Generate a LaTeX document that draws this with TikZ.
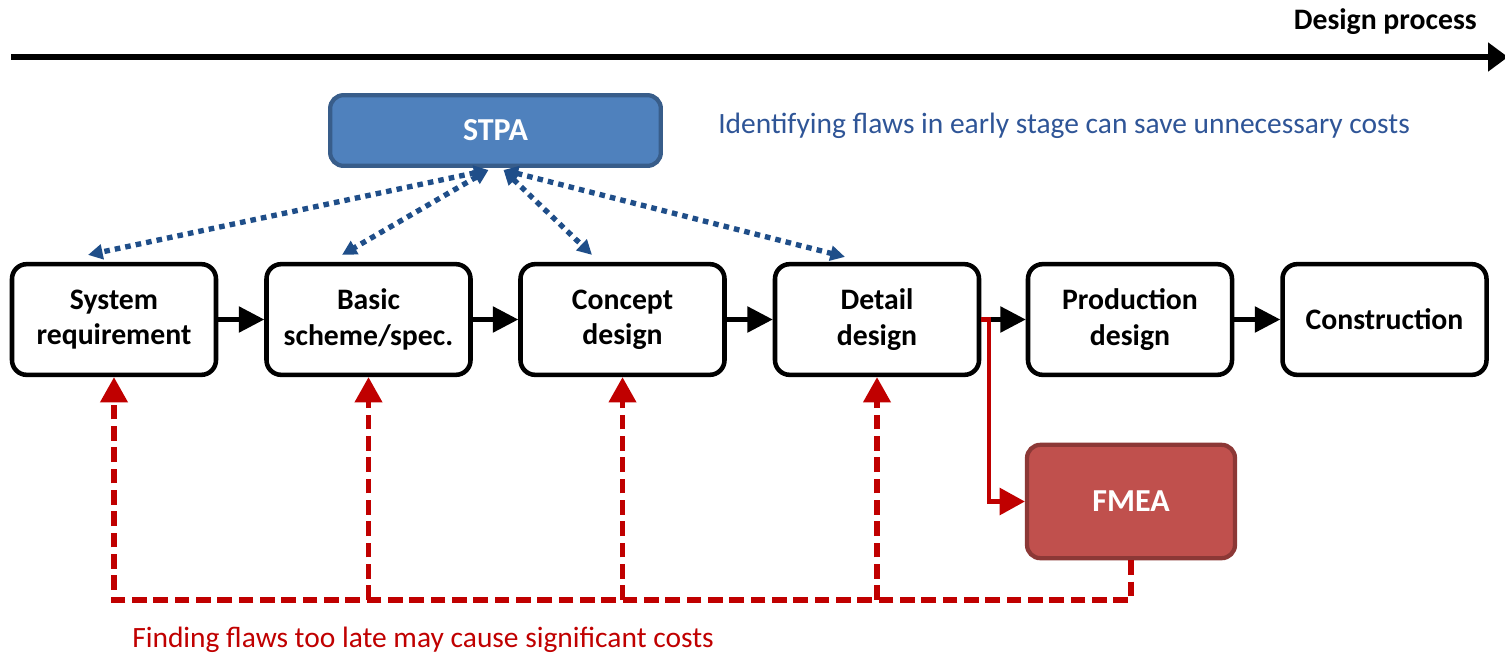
\documentclass[tikz,border=0pt]{standalone}
\usepackage{fontspec}
\setmainfont{Carlito}
\usetikzlibrary{arrows.meta}

\definecolor{stpafill}{HTML}{4F81BD}
\definecolor{stpaedge}{HTML}{385D8A}
\definecolor{fmeafill}{HTML}{C0504D}
\definecolor{fmeaedge}{HTML}{8C3836}
\definecolor{linkblue}{HTML}{1F4E89}
\definecolor{noteblue}{HTML}{2F5597}
\definecolor{flawred}{HTML}{C00000}

\begin{document}
\begin{tikzpicture}[x=0.75pt,y=-0.75pt,
  txt/.style={font=\fontsize{22.1pt}{26.5pt}\selectfont},
  lbl/.style={font=\fontsize{22.3pt}{26.5pt}\selectfont\bfseries},
  stage/.style={lbl, draw=black, fill=white, line width=3.4pt, rounded corners=11pt,
    minimum width=153pt, minimum height=83pt, inner sep=0pt, align=center},
  method/.style={font=\fontsize{24pt}{28pt}\selectfont\bfseries, text=white,
    line width=3.2pt, rounded corners=10pt, inner sep=0pt},
  flow/.style={line width=3.2pt, -{Triangle[length=19pt,width=19pt]}},
  link/.style={draw=linkblue, line width=4pt, dash pattern=on 4.2pt off 3.8pt,
    {Triangle[length=11pt,width=11pt]}-{Triangle[length=11pt,width=11pt]}},
  feedback/.style={draw=flawred, line width=4pt, dash pattern=on 11pt off 5pt},
  redtip/.style={-{Triangle[length=19pt,width=20pt]}},
  handoff/.style={draw=flawred, line width=3.2pt, redtip}]

\useasboundingbox (0,0) rectangle (1505,654);

% time axis
\coordinate (axL) at (11,57);
\coordinate (axR) at (1508,57);
\draw[line width=4.6pt, -{Triangle[length=15pt,width=21pt]}] (axL) -- (axR);
\node[lbl, anchor=base east, inner sep=0pt] (proc) at (1477,29) {Design process};

% design stages
\node[stage] (sys)     at (114,319.5)  {System\\requirement};
\node[stage] (basic)   at (368.5,319.5) {Basic\\scheme/spec.};
\node[stage] (concept) at (622.5,319.5) {Concept\\design};
\node[stage] (detail)  at (877,319.5)  {Detail\\design};
\node[stage] (prod)    at (1130,319.5) {Production\\design};
\node[stage] (build)   at (1384.5,319.5) {Construction};

\draw[flow] (sys) -- (basic);
\draw[flow] (basic) -- (concept);
\draw[flow] (concept) -- (detail);
\draw[flow] (detail) -- (prod);
\draw[flow] (prod) -- (build);

% analysis methods
\node[method, draw=stpaedge, fill=stpafill, minimum width=248pt, minimum height=53pt]
  (stpa) at (495.5,130.5) {STPA};
\node[method, draw=fmeaedge, fill=fmeafill, minimum width=156pt, minimum height=85pt]
  (fmea) at (1131,501.5) {FMEA};

\node[txt, text=noteblue, anchor=base west, inner sep=0pt] (early) at (718,133)
  {Identifying flaws in early stage can save unnecessary costs};
\node[txt, text=flawred, anchor=base west, inner sep=0pt] (late) at (132,647)
  {Finding flaws too late may cause significant costs};

% STPA links to the early stages
\coordinate (hubL) at ([shift={(-7,2)}]stpa.south);
\coordinate (hubR) at ([shift={(8,2)}]stpa.south);
\draw[link] (hubL) -- ([shift={(-26,-7)}]sys.north);
\draw[link] (hubL) -- ([shift={(-26.5,-7)}]basic.north);
\draw[link] (hubR) -- ([shift={(-30.5,-7)}]concept.north);
\draw[link] (hubR) -- ([shift={(-32,-5)}]detail.north);

% FMEA after detail design and late feedback
\draw[handoff] (detail.east) -- ++(8,0) |- (fmea.west);

\coordinate (busY) at (0,600);
\draw[feedback, redtip] (fmea.south) |- (busY -| sys.south) -- (sys.south);
\draw[feedback, redtip] (busY -| basic.south) -- (basic.south);
\draw[feedback, redtip] (busY -| concept.south) -- (concept.south);
\draw[feedback, redtip] (busY -| detail.south) -- (detail.south);

\end{tikzpicture}
\end{document}
